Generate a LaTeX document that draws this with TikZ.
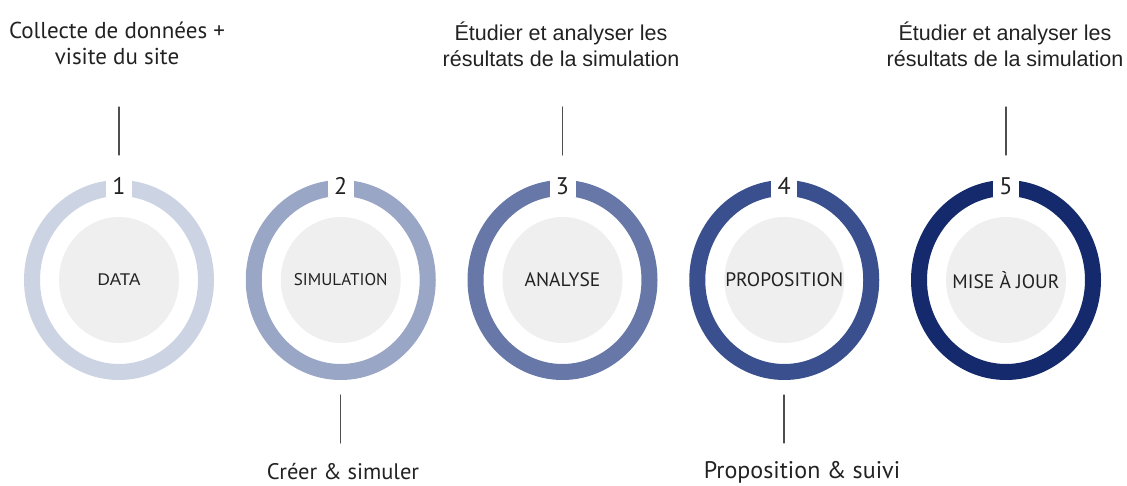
\documentclass[tikz,border=0pt]{standalone}
\usepackage{fontspec}
\setmainfont{Liberation Sans}
\newfontfamily\ptsans{PT Sans}
\definecolor{stepA}{HTML}{CCD3E2}
\definecolor{stepB}{HTML}{9AA6C5}
\definecolor{stepC}{HTML}{6677A8}
\definecolor{stepD}{HTML}{3A4F8E}
\definecolor{stepE}{HTML}{142A6D}
\definecolor{coregray}{HTML}{EFEFEF}
\definecolor{inkgray}{HTML}{222222}
\tikzset{
  ring/.style={line width=16pt},
  core/.style={fill=coregray},
  num/.style={fill=white,inner sep=0pt,minimum width=26pt,minimum height=22pt,
    text=inkgray,font=\ptsans\fontsize{24}{24}\selectfont},
  inner/.style={text=inkgray,font=\ptsans\fontsize{19.5}{19.5}\selectfont},
  tick/.style={draw=inkgray!80,line width=1.3pt},
  caption/.style={align=center,text=inkgray,font=\fontsize{21.5}{26}\selectfont},
  ptcaption/.style={caption,font=\ptsans\fontsize{23}{26}\selectfont}
}
\begin{document}
\begin{tikzpicture}[x=1pt,y=-1pt,line join=round,line cap=round]
	\useasboundingbox (0,0) rectangle (1127,486);
	% the five steps
	\foreach \i/\col/\txt in {1/stepA/{\rmfamily\fontsize{17}{17}\selectfont DATA},2/stepB/{\fontsize{17}{17}\selectfont SIMULATION},3/stepC/ANALYSE,4/stepD/PROPOSITION,5/stepE/MISE À JOUR}{
		\pgfmathsetmacro\cx{119+221.75*(\i-1)}
		\coordinate (c\i) at (\cx,280);
		\fill[core] (c\i) ellipse [x radius=60pt,y radius=63pt];
		\draw[ring,draw=\col,line cap=butt] (c\i) ellipse [x radius=87pt,y radius=92pt];
		\node[num] (num\i) at (\cx,186) {\i};
		\node[inner] (lab\i) at (c\i) {\txt};
	}
	% captions above
	\node[ptcaption] (cap1) at (117,43) {Collecte de données +\\visite du site};
	\node[caption] (cap3) at (561,44) {Étudier et analyser les\\résultats de la simulation};
	\node[caption] (cap5) at (1005,44) {Étudier et analyser les\\résultats de la simulation};
	% captions below
	\node[ptcaption,font=\ptsans\fontsize{22.5}{26}\selectfont] (cap2) at (343,472) {Créer \& simuler};
	\node[ptcaption,font=\ptsans\fontsize{24}{26}\selectfont] (cap4) at (802,472) {Proposition \& suivi};
	% ticks
	\coordinate (a1) at (119,107); \coordinate (b1) at (119,155);
	\coordinate (a3) at (562.5,107); \coordinate (b3) at (562.5,155);
	\coordinate (a5) at (1006,107); \coordinate (b5) at (1006,155);
	\coordinate (a2) at (340.75,395); \coordinate (b2) at (340.75,443);
	\coordinate (a4) at (784,395); \coordinate (b4) at (784,443);
	\draw[tick] (a1)--(b1) (a3)--(b3) (a5)--(b5) (a2)--(b2) (a4)--(b4);
\end{tikzpicture}
\end{document}
